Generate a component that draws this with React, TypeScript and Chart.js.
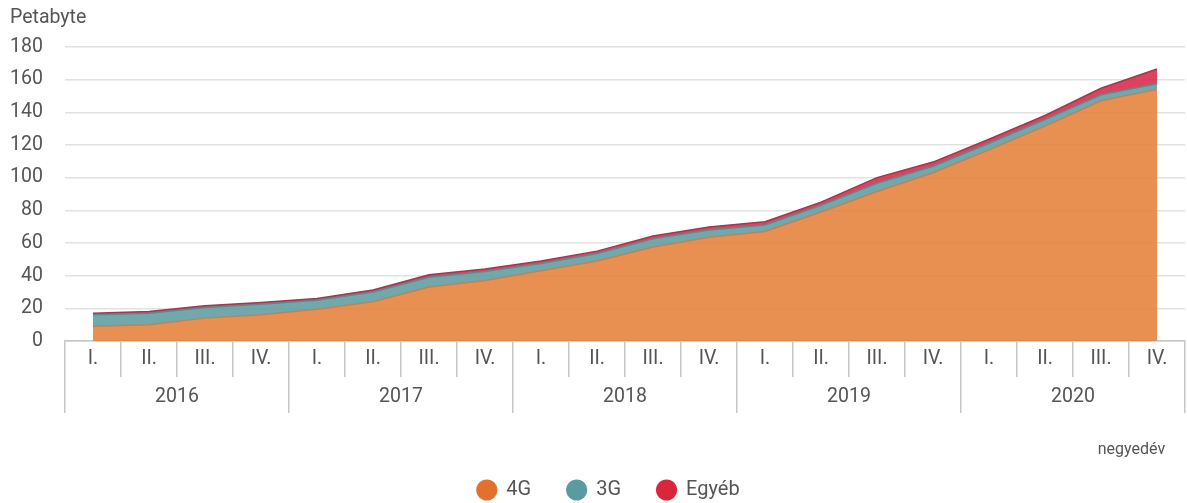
import React, { useEffect, useRef } from "react";
import { Chart, registerables } from "chart.js";

Chart.register(...registerables);

const quarters = ["I.", "II.", "III.", "IV.", "I.", "II.", "III.", "IV.", "I.", "II.", "III.", "IV.", "I.", "II.", "III.", "IV.", "I.", "II.", "III.", "IV."];
const years = ["2016", "2017", "2018", "2019", "2020"];
const values4G = [9, 10, 14, 16, 19.5, 24, 33, 37, 43, 49, 57.5, 63.5, 67, 79, 91.5, 103, 117, 131.5, 147, 154];
const values3G = [7, 7, 6.5, 6.5, 5.5, 6, 6, 5.5, 4.5, 4.5, 5, 4.5, 4, 4, 5, 4, 4, 4, 3.7, 3.5];
const valuesOther = [1, 1, 1, 1, 1, 1.2, 1.5, 1.5, 1.5, 1.5, 1.8, 1.8, 2, 2, 3.5, 2.5, 2.5, 2.5, 4, 9];
const seriesNames = ["4G", "3G", "Egyéb"];
const yTicks = [0, 20, 40, 60, 80, 100, 120, 140, 160, 180];

const solidColors = ["#e2702e", "#5a9aa1", "#d8263f"];
const fillColors = ["rgba(229,128,58,0.88)", "rgba(93,156,161,0.88)", "rgba(216,40,74,0.88)"];
const lineColors = ["#b9835e", "#5e8a8e", "#9c3a52"];

const FONT = "Roboto, 'Noto Sans', sans-serif";
const TEXT = "#555555";
const GRID_AXIS = "#c6c6c6";

const legendShift = {
  id: "legendShift",
  afterLayout(chart: any) {
    const lg = chart.legend;
    if (lg) {
      lg.left += 11;
      lg.right += 11;
    }
  },
};

export default function App() {
  const ref = useRef<HTMLCanvasElement | null>(null);

  useEffect(() => {
    document.body.style.margin = "0";
    const canvas = ref.current;
    if (!canvas) return;
    const data = [values4G, values3G, valuesOther];
    const chart = new Chart(canvas, {
      type: "line",
      data: {
        labels: quarters,
        datasets: data.map((d, i) => ({
          label: seriesNames[i],
          data: d,
          backgroundColor: fillColors[i],
          borderColor: lineColors[i],
          borderWidth: 1.5,
          pointRadius: 0,
          tension: 0,
          fill: i === 0 ? "origin" : "-1",
        })),
      },
      plugins: [legendShift],
      options: {
        animation: false,
        responsive: true,
        maintainAspectRatio: false,
        layout: { padding: { left: 10, right: 2, top: 0, bottom: -7 } },
        scales: {
          x: {
            type: "category",
            position: "bottom",
            weight: 0,
            offset: true,
            grid: {
              drawOnChartArea: false,
              offset: true,
              tickLength: 36,
              color: GRID_AXIS,
              lineWidth: 1.5,
            },
            border: { display: true, color: GRID_AXIS, width: 1.5 },
            ticks: {
              padding: -30,
              autoSkip: false,
              maxRotation: 0,
              color: TEXT,
              font: { family: FONT, size: 19.5 },
            },
            afterFit: (s: any) => {
              s.height = 36;
            },
          },
          x2: {
            type: "category",
            labels: years,
            position: "bottom",
            weight: 1,
            offset: true,
            grid: {
              drawOnChartArea: false,
              offset: true,
              tickLength: 36,
              color: GRID_AXIS,
              lineWidth: 1.5,
            },
            border: { display: false },
            ticks: {
              padding: -28,
              autoSkip: false,
              maxRotation: 0,
              color: TEXT,
              font: { family: FONT, size: 19.5 },
            },
            title: {
              display: true,
              text: "negyedév     ",
              align: "end",
              color: TEXT,
              font: { family: FONT, size: 16 },
              padding: { top: 0, bottom: -16 },
            },
            afterFit: (s: any) => {
              s.height = 67;
            },
          },
          y: {
            stacked: true,
            min: 0,
            max: 180,
            afterBuildTicks: (s: any) => {
              s.ticks = yTicks.map((v) => ({ value: v }));
            },
            afterFit: (s: any) => {
              s.width = 55;
            },
            grid: { color: "#e2e2e2", lineWidth: 1.5, drawTicks: false },
            border: { display: false },
            ticks: {
              padding: 22,
              color: TEXT,
              font: { family: FONT, size: 19.5 },
            },
          },
        },
        plugins: {
          title: {
            display: true,
            text: "Petabyte",
            align: "start",
            color: TEXT,
            font: { family: FONT, size: 19.5, weight: "normal" },
            padding: { top: 6, bottom: 17.5 },
          },
          legend: {
            position: "bottom",
            labels: {
              usePointStyle: true,
              pointStyle: "circle",
              boxWidth: 19,
              boxHeight: 15,
              padding: 36,
              color: TEXT,
              font: { family: FONT, size: 20 },
              generateLabels: (c: any) => {
                const items = Chart.defaults.plugins.legend.labels.generateLabels(c);
                return items.map((it: any, i: number) => ({
                  ...it,
                  fillStyle: solidColors[i],
                  strokeStyle: solidColors[i],
                  lineWidth: 0,
                  pointStyle: "circle",
                }));
              },
            },
          },
          tooltip: { enabled: false },
        },
      },
    });
    return () => chart.destroy();
  }, []);

  return (
    <div style={{ width: "1187px", height: "503px", position: "relative" }}>
      <canvas ref={ref} />
    </div>
  );
}
